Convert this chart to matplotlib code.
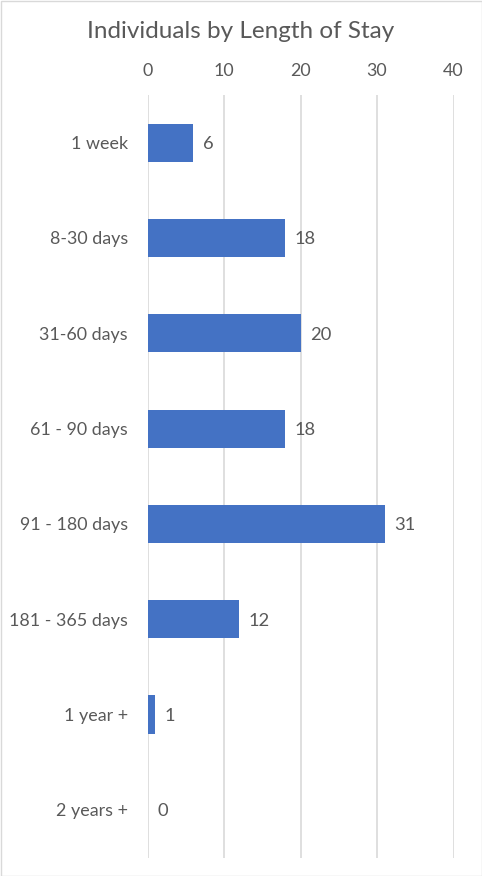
import matplotlib
matplotlib.use("Agg")
import matplotlib.pyplot as plt
from matplotlib.patches import Rectangle

categories = ["1 week", "8-30 days", "31-60 days", "61 - 90 days", "91 - 180 days",
              "181 - 365 days", "1 year +", "2 years +"]
values = [6, 18, 20, 18, 31, 12, 1, 0]
xticks = [0, 10, 20, 30, 40]

plt.rcParams['font.family'] = ['Lato', 'DejaVu Sans']
TXT = "#595959"
BAR = "#4472C4"
GRID = "#D9D9D9"

W, H = 482, 876
fig = plt.figure(figsize=(W / 100, H / 100), dpi=100)
fig.patch.set_facecolor("white")

left, right = 147.5 / W, 453.5 / W
top, bottom = 1 - 95 / H, 1 - 857.5 / H
ax = fig.add_axes([left, bottom, right - left, top - bottom])

y = list(range(len(categories)))
ax.barh(y, values, height=0.4, color=BAR, zorder=3)
ax.set_ylim(len(categories) - 0.5, -0.5)
ax.set_xlim(0, 40)
ax.set_xticks(xticks)
ax.set_xticklabels([str(t) for t in xticks])
ax.xaxis.tick_top()
ax.tick_params(axis='x', length=0, pad=11.5, labelsize=12.9, labelcolor=TXT)
ax.set_yticks(y)
ax.set_yticklabels(categories)
ax.tick_params(axis='y', length=0, pad=14, labelsize=12.9, labelcolor=TXT)
ax.grid(axis='x', color=GRID, linewidth=1.2, zorder=0)
for s in ax.spines.values():
    s.set_visible(False)

for yi, v in zip(y, values):
    ax.annotate(str(v), (v, yi), xytext=(7, -1), textcoords='offset points',
                va='center', ha='left', fontsize=13.2, color=TXT)

fig.text(0.5, 1 - 31 / H, "Individuals by Length of Stay", ha='center', va='center',
         fontsize=17.5, color=TXT)

fig.patches.append(Rectangle((0.5 / W, 0.5 / H), (W - 1) / W, (H - 1) / H,
                             transform=fig.transFigure, fill=False,
                             edgecolor="#D9D9D9", linewidth=1))

fig.savefig("out.png", dpi=100, facecolor="white")
